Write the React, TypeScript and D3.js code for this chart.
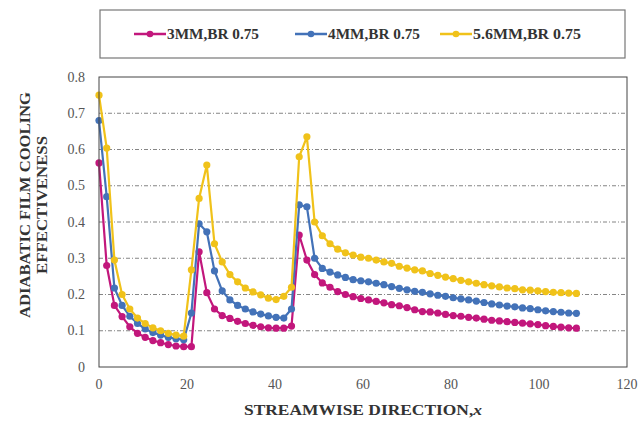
import * as d3 from "d3";

const xs = [
  0, 1.75, 3.5, 5.25, 7, 8.75, 10.5, 12.25, 14, 15.75, 17.5, 19.25, 21,
  22.75, 24.5, 26.25, 28, 29.75, 31.5, 33.25, 35, 36.75, 38.5, 40.25, 42, 43.75,
  45.5, 47.25, 49, 50.75, 52.5, 54.25, 56, 57.75, 59.5, 61.25, 63, 64.75, 66.5,
  68.25, 70, 71.75, 73.5, 75.25, 77, 78.75, 80.5, 82.25, 84, 85.75, 87.5, 89.25,
  91, 92.75, 94.5, 96.25, 98, 99.75, 101.5, 103.25, 105, 106.75, 108.5,
];

const mm3 = [
  0.563, 0.28, 0.17, 0.139, 0.111, 0.093, 0.082, 0.073, 0.067, 0.062, 0.058, 0.056, 0.056,
  0.318, 0.205, 0.16, 0.142, 0.134, 0.126, 0.12, 0.115, 0.111, 0.108, 0.107, 0.107, 0.113,
  0.364, 0.295, 0.255, 0.232, 0.22, 0.208, 0.2, 0.194, 0.189, 0.185, 0.181, 0.177, 0.172,
  0.169, 0.164, 0.158, 0.153, 0.152, 0.149, 0.145, 0.142, 0.14, 0.137, 0.135, 0.132, 0.129,
  0.127, 0.125, 0.123, 0.121, 0.119, 0.117, 0.114, 0.112, 0.11, 0.108, 0.107,
];

const mm4 = [
  0.68, 0.47, 0.218, 0.17, 0.14, 0.12, 0.105, 0.095, 0.088, 0.082, 0.078, 0.075, 0.149,
  0.395, 0.373, 0.265, 0.21, 0.185, 0.17, 0.16, 0.152, 0.146, 0.141, 0.137, 0.135, 0.16,
  0.447, 0.442, 0.3, 0.272, 0.262, 0.254, 0.247, 0.241, 0.238, 0.235, 0.231, 0.227, 0.222,
  0.217, 0.213, 0.209, 0.206, 0.202, 0.198, 0.195, 0.191, 0.188, 0.185, 0.182, 0.178, 0.174,
  0.171, 0.168, 0.166, 0.163, 0.161, 0.158, 0.155, 0.153, 0.151, 0.149, 0.148,
];

const mm56 = [
  0.75, 0.604, 0.295, 0.2, 0.16, 0.135, 0.12, 0.108, 0.1, 0.093, 0.088, 0.085, 0.268,
  0.465, 0.557, 0.34, 0.29, 0.255, 0.235, 0.218, 0.207, 0.199, 0.19, 0.186, 0.195, 0.22,
  0.58, 0.635, 0.4, 0.362, 0.34, 0.325, 0.315, 0.309, 0.303, 0.3, 0.295, 0.29, 0.286,
  0.278, 0.273, 0.268, 0.265, 0.258, 0.253, 0.248, 0.244, 0.239, 0.235, 0.231, 0.227, 0.224,
  0.221, 0.218, 0.216, 0.213, 0.212, 0.21, 0.208, 0.206, 0.205, 0.204, 0.203,
];

const seriesNames = ["3MM,BR 0.75", "4MM,BR 0.75", "5.6MM,BR 0.75"];
const seriesValues = [mm3, mm4, mm56];
const colors = ["#c2177c", "#4372b8", "#f0c21a"];

const xTicks = [0, 20, 40, 60, 80, 100, 120];
const yTicks = [0, 0.1, 0.2, 0.3, 0.4, 0.5, 0.6, 0.7, 0.8];

const serif = "'Liberation Serif', 'Times New Roman', serif";

export default function App() {
  const W = 640,
    H = 421;
  const m = { left: 99, right: 13, top: 77, bottom: 54 };

  const x = d3.scaleLinear().domain([0, 120]).range([m.left, W - m.right]);
  const y = d3.scaleLinear().domain([0, 0.8]).range([H - m.bottom, m.top]);

  const line = d3
    .line<number>()
    .x((_, i) => x(xs[i]))
    .y((d) => y(d));

  // legend entry placement
  const legendX = [134, 295, 440];
  const legendLen = [92, 92, 108];

  return (
    <svg
      width={W}
      height={H}
      style={{ position: "absolute", left: 0, top: 0, background: "#fff" }}
    >
      {/* legend */}
      <rect x={100} y={10} width={525} height={48} fill="none" stroke="#777" strokeWidth={1.2} />
      {seriesNames.map((n, i) => (
        <g key={n} transform={`translate(${legendX[i]},34)`}>
          <line x1={0} x2={32} y1={0} y2={0} stroke={colors[i]} strokeWidth={2.5} />
          <circle cx={16} cy={0} r={3.3} fill={colors[i]} />
          <text
            x={33}
            y={5}
            fontFamily={serif}
            fontWeight="bold"
            fontSize={14}
            textLength={legendLen[i]}
            lengthAdjust="spacingAndGlyphs"
            fill="#333"
          >
            {n}
          </text>
        </g>
      ))}

      {/* gridlines */}
      {yTicks
        .filter((t) => t > 0 && t < 0.8)
        .map((t) => (
          <line
            key={t}
            x1={m.left}
            x2={W - m.right}
            y1={y(t)}
            y2={y(t)}
            stroke="#666"
            strokeWidth={0.8}
            strokeDasharray="4,2,1,2"
          />
        ))}

      {/* series */}
      {seriesValues.map((vals, i) => (
        <g key={i}>
          <path d={line(vals) ?? ""} fill="none" stroke={colors[i]} strokeWidth={2.2} />
          {vals.map((v, j) => (
            <circle key={j} cx={x(xs[j])} cy={y(v)} r={3.6} fill={colors[i]} />
          ))}
        </g>
      ))}

      {/* frame */}
      <rect
        x={m.left}
        y={m.top}
        width={W - m.left - m.right}
        height={H - m.top - m.bottom}
        fill="none"
        stroke="#444"
        strokeWidth={1}
      />

      {/* ticks */}
      {yTicks.map((t) => (
        <text
          key={t}
          x={85}
          y={y(t) + 4.5}
          textAnchor="end"
          fontFamily={serif}
          fontSize={14}
          fill="#555"
        >
          {d3.format("~g")(t)}
        </text>
      ))}
      {xTicks.map((t) => (
        <text
          key={t}
          x={x(t)}
          y={389}
          textAnchor="middle"
          fontFamily={serif}
          fontSize={14}
          fill="#555"
        >
          {t}
        </text>
      ))}

      {/* axis titles */}
      <text
        x={363}
        y={415}
        textAnchor="middle"
        fontFamily={serif}
        fontWeight="bold"
        fontSize={15.5}
        textLength={238}
        lengthAdjust="spacingAndGlyphs"
        fill="#333"
      >
        STREAMWISE DIRECTION,<tspan fontStyle="italic">x</tspan>
      </text>
      <g transform="translate(30,205) rotate(-90)">
        <text
          x={0}
          y={0}
          textAnchor="middle"
          fontFamily={serif}
          fontWeight="bold"
          fontSize={15}
          textLength={226}
          lengthAdjust="spacingAndGlyphs"
          fill="#333"
        >
          ADIABATIC FILM COOLING
        </text>
        <text
          x={0}
          y={17}
          textAnchor="middle"
          fontFamily={serif}
          fontWeight="bold"
          fontSize={15}
          textLength={138}
          lengthAdjust="spacingAndGlyphs"
          fill="#333"
        >
          EFFECTIVENESS
        </text>
      </g>
    </svg>
  );
}
